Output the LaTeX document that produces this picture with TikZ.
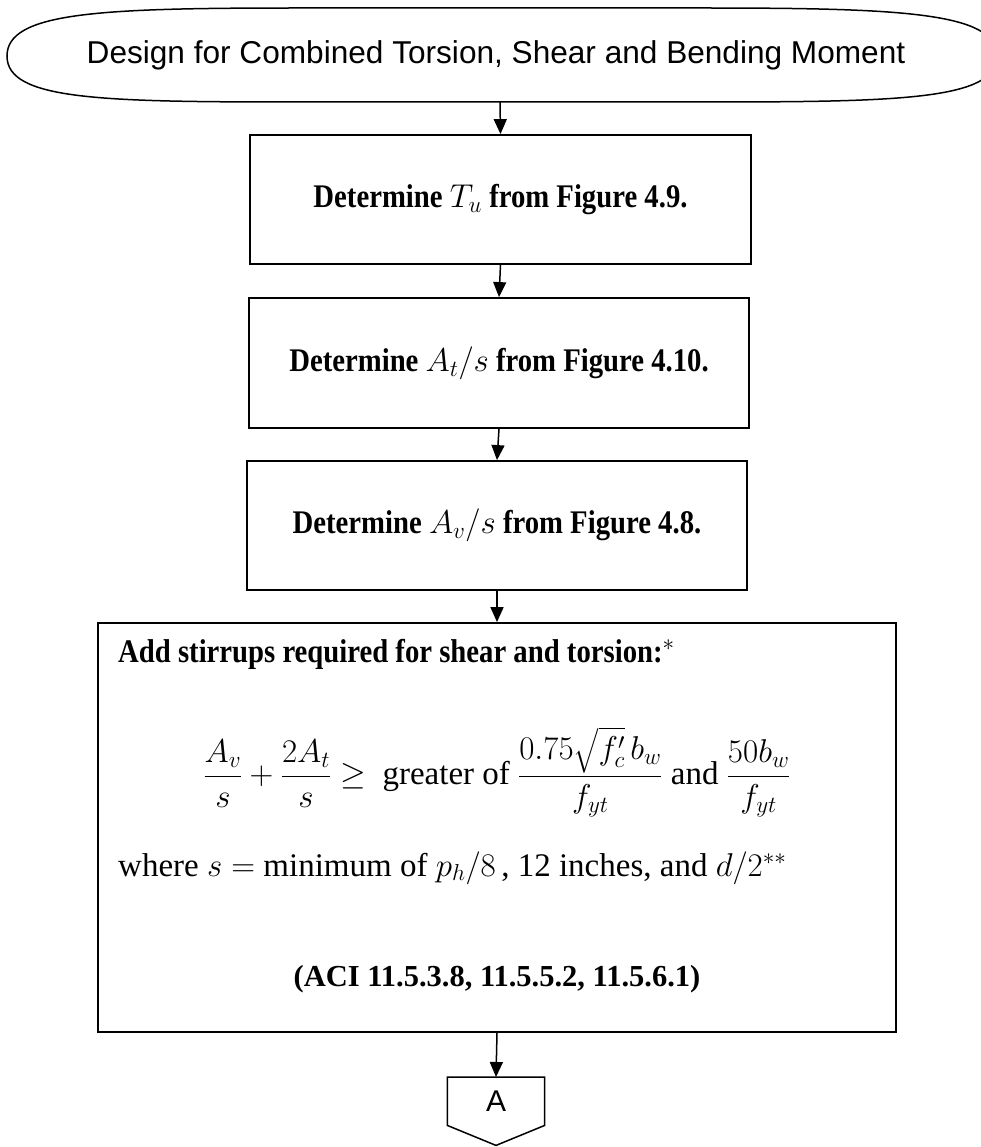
\documentclass[tikz,border=0pt]{standalone}
\usepackage{fix-cm}
\usepackage{amsmath}
\usepackage{fontspec}
\setmainfont{Liberation Serif}
\newfontfamily\titlefont{Liberation Sans}
\newfontfamily\condserif[FakeStretch=0.87]{Liberation Serif}
\usetikzlibrary{arrows.meta,calc}
\begin{document}
\begin{tikzpicture}[x=1pt,y=-1pt,
  box/.style={draw, line width=1.8pt, inner sep=0pt},
  arr/.style={line width=1.5pt, -{Triangle[length=15pt,width=13pt]}},
  boxtext/.style={font=\condserif\fontsize{33}{38}\selectfont\bfseries},
  acitext/.style={font=\fontsize{30.5}{36}\selectfont\bfseries},
  bodytext/.style={font=\fontsize{33}{38}\selectfont}]
\useasboundingbox (0,0) rectangle (981,1147);
\fill[white] (0,0) rectangle (981,1147);
\begin{scope}
\clip (0,0) rectangle (981,1147);
\draw[line width=1.5pt] (7,56) .. controls (7,12) and (100,8) .. (300,8) -- (700,8)
  .. controls (900,8) and (997,12) .. (997,56)
  .. controls (997,100) and (900,102) .. (700,102) -- (300,102)
  .. controls (100,102) and (7,100) .. (7,56) -- cycle;
\end{scope}
\node[font=\titlefont\fontsize{31.6}{36}\selectfont, minimum height=94pt, inner sep=0pt] (title) at (496,55) {Design for Combined Torsion, Shear and Bending Moment};

\node[box, minimum width=501pt, minimum height=129pt, boxtext] (b1) at (500.5,199.5) {Determine $T_u$ from Figure 4.9.};
\node[box, minimum width=500pt, minimum height=130pt, boxtext] (b2) at (499,363) {Determine $A_t/s$ from Figure 4.10.};
\node[box, minimum width=500pt, minimum height=129pt, boxtext] (b3) at (497,525.5) {Determine $A_v/s$ from Figure 4.8.};
\node[box, minimum width=798pt, minimum height=409pt] (b4) at (497,827.5) {};

\node[boxtext, anchor=base west, inner sep=0pt] (t1) at (118,662) {Add stirrups required for shear and torsion:$^{*}$};
\node[bodytext, inner sep=0pt] (eq) at (497,772) {$\dfrac{A_v}{s}+\dfrac{2A_t}{s}\geq$\ \ greater of $\dfrac{0.75\sqrt{f'_c}\,b_w}{f_{yt}}$ and $\dfrac{50b_w}{f_{yt}}$};
\node[bodytext, anchor=base west, inner sep=0pt] (t2) at (118,876) {where $s=$ minimum of $p_h/8$\,, 12 inches, and $d/2^{**}$};
\node[acitext, anchor=base, inner sep=0pt] (t3) at (497,986) {(ACI 11.5.3.8, 11.5.5.2, 11.5.6.1)};

\node[minimum width=97pt, minimum height=48pt, inner sep=0pt, anchor=north, font=\titlefont\fontsize{30}{36}\selectfont] (conA) at (496,1077) {A};
\draw[line width=1.5pt] (conA.north west) -- (conA.north east) -- (conA.south east) -- ($(conA.south)+(0,20)$) -- (conA.south west) -- cycle;

\draw[arr] ([xshift=4pt]title.south) -- (b1.north);
\draw[arr] (b1.south) -- (b2.north);
\draw[arr] (b2.south) -- (b3.north);
\draw[arr] (b3.south) -- (b4.north);
\draw[arr] (b4.south) -- (conA.north);
\end{tikzpicture}
\end{document}
